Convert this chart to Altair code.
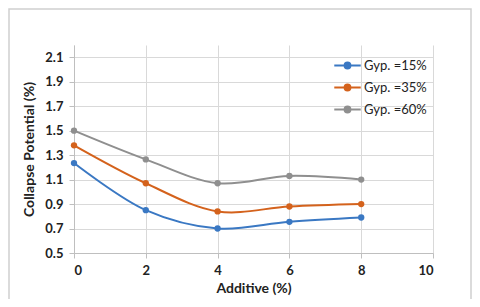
import altair as alt
import pandas as pd

additive = [0, 2, 4, 6, 8]
gyp15 = [1.235, 0.85, 0.70, 0.755, 0.79]
gyp35 = [1.38, 1.07, 0.84, 0.88, 0.90]
gyp60 = [1.50, 1.265, 1.07, 1.13, 1.10]
series_names = ["Gyp. =15%", "Gyp. =35%", "Gyp. =60%"]
colors = ["#3a78c3", "#d4621c", "#8f8f8f"]
y_ticks = [0.5, 0.7, 0.9, 1.1, 1.3, 1.5, 1.7, 1.9, 2.1]
x_ticks = [0, 2, 4, 6, 8, 10]

rows = []
for name, vals in zip(series_names, [gyp15, gyp35, gyp60]):
    for a, v in zip(additive, vals):
        rows.append({"Additive": a, "Collapse": v, "Series": name})
df = pd.DataFrame(rows)

font = "Lato"
legend_path = "M-1,0L1,0M-0.22,0A0.22,0.22 0 1,0 0.22,0A0.22,0.22 0 1,0 -0.22,0Z"

color = alt.Color(
    "Series:N",
    scale=alt.Scale(domain=series_names, range=colors),
    legend=alt.Legend(
        title=None,
        orient="none",
        legendX=259,
        legendY=6,
        symbolType=legend_path,
        symbolSize=700,
        symbolStrokeWidth=2,
        labelFont=font,
        labelFontSize=13,
        labelColor="#222222",
        labelOffset=2,
        rowPadding=0,
    ),
)

x = alt.X(
    "Additive:Q",
    scale=alt.Scale(domain=[0, 10], nice=False),
    axis=alt.Axis(
        title="Additive (%)",
        values=x_ticks,
        format="d",
        grid=True,
        tickSize=5,
        labelPadding=6,
        titlePadding=4,
    ),
)
y = alt.Y(
    "Collapse:Q",
    scale=alt.Scale(domain=[0.5, 2.2], nice=False, zero=False),
    axis=alt.Axis(
        title="Collapse Potential (%)",
        values=y_ticks,
        format=".1f",
        grid=True,
        tickSize=5,
        labelPadding=6,
        titlePadding=8,
    ),
)

base = alt.Chart(df)
lines = base.mark_line(interpolate="catmull-rom", strokeWidth=2).encode(
    x=x, y=y, color=color
)
points = base.mark_circle(size=40, opacity=1).encode(
    x=x, y=y, color=alt.Color("Series:N", scale=alt.Scale(domain=series_names, range=colors), legend=None)
)

frame = alt.Chart(pd.DataFrame({"f": [0]})).mark_rect(
    fill=None, stroke="#d0d0d0", strokeWidth=1.5
).encode(
    x=alt.value(-65), y=alt.value(-36), x2=alt.value(397), y2=alt.value(256)
)

chart = (
    alt.layer(frame, lines, points)
    .properties(
        width=359,
        height=208,
        autosize=alt.AutoSizeParams(type="none"),
        padding={"left": 66, "top": 37, "right": 39, "bottom": 46},
        background="white",
    )
    .configure_view(stroke=None)
    .configure_axis(
        labelFont=font,
        titleFont=font,
        labelFontSize=13,
        titleFontSize=14,
        labelFontWeight="bold",
        titleFontWeight="bold",
        labelColor="#222222",
        titleColor="#222222",
        gridColor="#d9d9d9",
        domainColor="#bfbfbf",
        tickColor="#bfbfbf",
    )
)

chart.save("out.html", embed_options={"renderer": "svg", "actions": False})
